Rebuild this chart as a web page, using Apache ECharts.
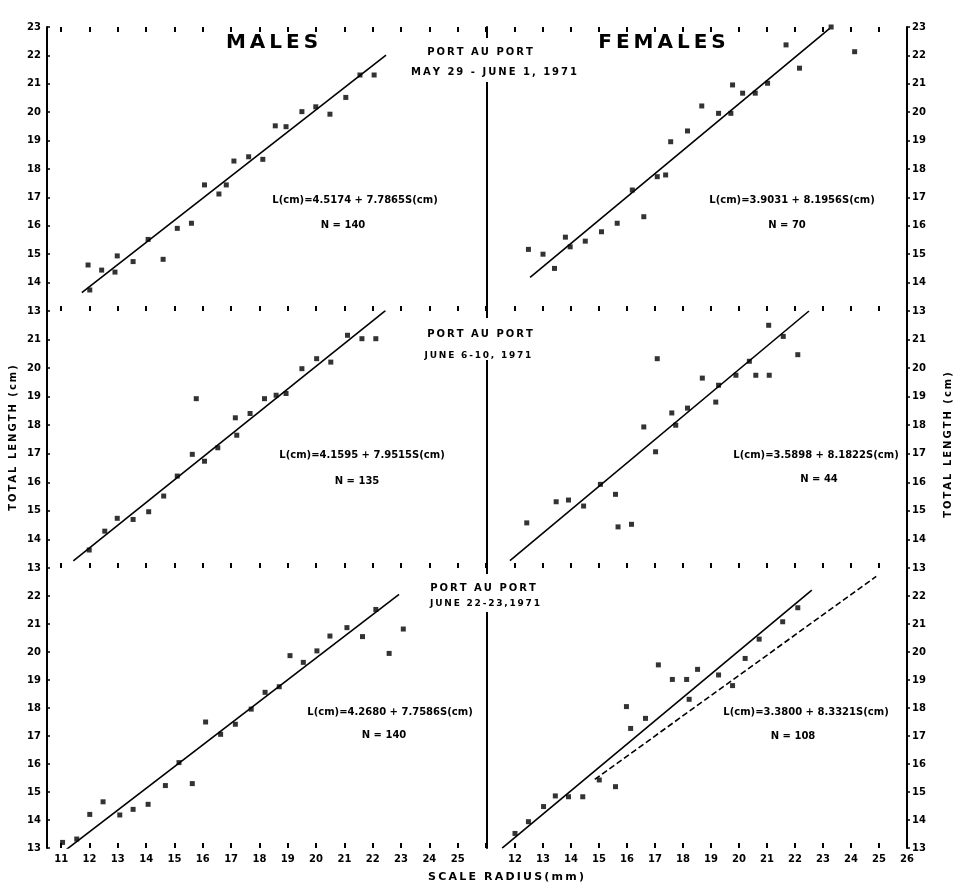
<!DOCTYPE html>
<html>
<head>
<meta charset="utf-8">
<script src="https://cdn.jsdelivr.net/npm/echarts@6/dist/echarts.min.js"></script>
<style>
  html, body { margin: 0; padding: 0; background: #fff; }
  #chart { width: 955px; height: 885px; }
</style>
</head>
<body>
<div id="chart"></div>
<script>
// Total length (cm) against scale radius (mm), Port au Port samples, 1971.

// Tick values and labels
const xTicksLeft = [11, 12, 13, 14, 15, 16, 17, 18, 19, 20, 21, 22, 23, 24, 25, 26];
const xLabelsLeft = [11, 12, 13, 14, 15, 16, 17, 18, 19, 20, 21, 22, 23, 24, 25];
const xTicksRight = [12, 13, 14, 15, 16, 17, 18, 19, 20, 21, 22, 23, 24, 25, 26];
const xLabelsRight = [12, 13, 14, 15, 16, 17, 18, 19, 20, 21, 22, 23, 24, 25, 26];
const yTicksTall = [13, 14, 15, 16, 17, 18, 19, 20, 21, 22, 23];
const yTicksShort = [13, 14, 15, 16, 17, 18, 19, 20, 21, 22];
const yLabelsTop = [13, 14, 15, 16, 17, 18, 19, 20, 21, 22, 23];
const yLabelsMid = [13, 14, 15, 16, 17, 18, 19, 20, 21];
const yLabelsBot = [13, 14, 15, 16, 17, 18, 19, 20, 21, 22];

// Sample headings
const sampleSites = ['PORT AU PORT', 'PORT AU PORT', 'PORT AU PORT'];
const sampleDates = ['MAY 29 - JUNE 1, 1971', 'JUNE 6-10, 1971', 'JUNE 22-23,1971'];

// Mean length at scale radius: [scale radius mm, total length cm]
const maleMay = [[11.95,14.62],[12.01,13.74],[12.43,14.44],[12.9,14.37],[12.98,14.94],[13.54,14.74],[14.07,15.52],[14.6,14.82],[15.1,15.91],[15.6,16.09],[16.06,17.44],[16.57,17.12],[16.83,17.44],[17.1,18.28],[17.62,18.43],[18.12,18.34],[18.56,19.52],[18.94,19.49],[19.5,20.02],[19.99,20.19],[20.49,19.93],[21.05,20.52],[21.55,21.31],[22.05,21.31]];
const femaleMay = [[12.48,15.17],[13.0,15.0],[13.41,14.5],[13.8,15.6],[13.97,15.26],[14.51,15.46],[15.09,15.79],[15.65,16.09],[16.6,16.32],[16.19,17.26],[17.08,17.73],[17.38,17.79],[17.56,18.96],[18.16,19.34],[18.67,20.22],[19.27,19.96],[19.71,19.96],[19.77,20.96],[20.13,20.67],[20.58,20.67],[21.02,21.02],[22.16,21.55],[21.68,22.37],[23.29,23.0],[24.13,22.13]];
const maleJune6 = [[11.99,13.63],[12.54,14.29],[12.98,14.74],[13.54,14.7],[14.09,14.97],[14.62,15.52],[15.1,16.22],[15.63,16.98],[16.06,16.74],[16.53,17.21],[17.15,18.26],[17.2,17.65],[17.67,18.41],[18.18,18.93],[18.59,19.05],[18.94,19.11],[19.5,19.98],[20.02,20.33],[20.52,20.21],[21.11,21.15],[21.62,21.03],[22.11,21.03],[15.77,18.93]];
const femaleJune6 = [[12.42,14.58],[13.47,15.32],[13.91,15.38],[14.45,15.17],[15.05,15.93],[15.59,15.58],[15.68,14.44],[16.16,14.53],[16.6,17.94],[17.02,17.07],[17.6,18.43],[17.74,18.0],[18.16,18.6],[19.17,18.81],[18.69,19.65],[19.27,19.4],[19.89,19.75],[20.37,20.24],[20.6,19.75],[21.08,19.75],[21.58,21.11],[21.06,21.5],[17.08,20.33],[22.1,20.47]];
const maleJune22 = [[11.05,13.2],[11.55,13.32],[12.01,14.2],[12.48,14.65],[13.07,14.18],[13.54,14.38],[14.07,14.56],[14.68,15.23],[15.16,16.05],[15.63,15.3],[16.63,17.06],[17.15,17.42],[17.71,17.96],[18.2,18.56],[18.7,18.76],[19.08,19.87],[19.55,19.63],[20.03,20.04],[20.49,20.57],[21.09,20.87],[21.64,20.55],[22.11,21.52],[22.58,19.95],[23.08,20.82],[16.1,17.5]];
const femaleJune22 = [[12.0,13.52],[12.48,13.94],[13.02,14.48],[13.44,14.86],[13.91,14.83],[14.42,14.83],[15.01,15.43],[15.59,15.19],[16.13,17.27],[16.66,17.63],[15.98,18.05],[17.12,19.54],[17.62,19.02],[18.13,19.02],[18.22,18.31],[18.52,19.38],[19.27,19.18],[19.77,18.8],[20.22,19.77],[20.72,20.46],[21.56,21.08],[22.1,21.58]];

// Regressions L(cm) = a + b * S(cm): [a, b, first S(mm), last S(mm)]
const fitMaleMay = [4.5174, 7.7865, 11.73, 22.47];
const fitFemaleMay = [3.9031, 8.1956, 12.54, 23.23];
const fitMaleJune6 = [4.1595, 7.9515, 11.43, 22.45];
const fitFemaleJune6 = [3.5898, 8.1822, 11.82, 22.5];
const fitMaleJune22 = [4.2680, 7.7586, 11.19, 22.93];
const fitFemaleJune22 = [3.3800, 8.3321, 11.54, 22.6];
// Dashed comparison line in the late-June female panel
const compareJune22 = [[14.85, 15.45], [24.9, 22.7]];

// Sample sizes
const nMaleMay = 140, nFemaleMay = 70, nMaleJune6 = 135, nFemaleJune6 = 44, nMaleJune22 = 140, nFemaleJune22 = 108;

const FONT = '"DejaVu Sans", "Liberation Sans", sans-serif';
const INK = '#000';

const grids = [
  { left: 47,  top: 27,  width: 439, height: 284 },
  { left: 487, top: 27,  width: 420, height: 284 },
  { left: 47,  top: 311, width: 439, height: 257 },
  { left: 487, top: 311, width: 420, height: 257 },
  { left: 47,  top: 568, width: 439, height: 280 },
  { left: 487, top: 568, width: 420, height: 280 }
];

const xAxes = [];
const yAxes = [];
const series = [];

function addX(gi, pos, showLabels) {
  const isLeft = gi % 2 === 0;
  xAxes.push({
    type: 'value', gridIndex: gi, position: pos,
    min: isLeft ? 10.5 : 11, max: 26,
    axisLine: { show: false },
    splitLine: { show: false },
    axisTick: { show: true, inside: true, length: 5, lineStyle: { color: INK, width: 2 },
                customValues: isLeft ? xTicksLeft : xTicksRight },
    axisLabel: { show: showLabels, margin: 6, color: INK, fontFamily: FONT, fontWeight: 'bold', fontSize: 10,
                 customValues: isLeft ? xLabelsLeft : xLabelsRight }
  });
  return xAxes.length - 1;
}

function addY(gi, pos, max, labels, showLine, showLabels) {
  const ticks = max === 23 ? yTicksTall : yTicksShort;
  yAxes.push({
    type: 'value', gridIndex: gi, position: pos, min: 13, max: max,
    splitLine: { show: false },
    axisLine: { show: showLine, onZero: false, lineStyle: { color: INK, width: 2 } },
    axisTick: { show: showLabels, inside: pos === 'left', length: 3, lineStyle: { color: INK, width: 1.5 },
                customValues: ticks },
    axisLabel: { show: showLabels, margin: pos === 'left' ? 6 : 5, color: INK, fontFamily: FONT, fontWeight: 'bold',
                 fontSize: 10, customValues: labels }
  });
  return yAxes.length - 1;
}

function fitLine(fit) {
  const [a, b, s0, s1] = fit;
  return [[s0, a + b * s0 / 10], [s1, a + b * s1 / 10]];
}

function addPanel(gi, points, fit, yMax, yLabels) {
  const isLeft = gi % 2 === 0;
  const xi = addX(gi, 'bottom', gi >= 4);
  if (gi < 2) addX(gi, 'top', false);
  let yi;
  if (isLeft) {
    yi = addY(gi, 'left', yMax, yLabels, true, true);
  } else {
    yi = addY(gi, 'right', yMax, yLabels, true, true);
    addY(gi, 'left', yMax, yLabels, true, false);
  }
  series.push({
    type: 'scatter', xAxisIndex: xi, yAxisIndex: yi, data: points,
    symbol: 'rect', symbolSize: [5, 5], itemStyle: { color: INK }, silent: true
  });
  series.push({
    type: 'line', xAxisIndex: xi, yAxisIndex: yi, data: fitLine(fit),
    symbol: 'none', lineStyle: { color: INK, width: 1.6 }, silent: true
  });
  return { xi, yi };
}

addPanel(0, maleMay, fitMaleMay, 23, yLabelsTop);
addPanel(1, femaleMay, fitFemaleMay, 23, yLabelsTop);
addPanel(2, maleJune6, fitMaleJune6, 22, yLabelsMid);
addPanel(3, femaleJune6, fitFemaleJune6, 22, yLabelsMid);
addPanel(4, maleJune22, fitMaleJune22, 23, yLabelsBot);
const br = addPanel(5, femaleJune22, fitFemaleJune22, 23, yLabelsBot);
series.push({
  type: 'line', xAxisIndex: br.xi, yAxisIndex: br.yi, data: compareJune22,
  symbol: 'none', lineStyle: { color: INK, width: 1.6, type: [6, 3] }, silent: true
});

function txt(x, y, s, size, extra) {
  return Object.assign({
    type: 'text', x: x, y: y, z: 60,
    style: { text: s, fill: INK, fontFamily: FONT, fontWeight: 'bold', fontSize: size,
             align: 'center', verticalAlign: 'middle' }
  }, extra || {});
}

function eqText(fit) {
  return 'L(cm)=' + fit[0].toFixed(4) + ' + ' + fit[1].toFixed(4) + 'S(cm)';
}

const sp = '\u2009';
function spaced(s) { return s.split('').join(sp); }

const graphic = [
  // breaks in the centre divider behind the sample headings
  { type: 'rect', z: 50, shape: { x: 420, y: 38, width: 175, height: 44 }, style: { fill: '#fff' } },
  { type: 'rect', z: 50, shape: { x: 420, y: 318, width: 125, height: 42 }, style: { fill: '#fff' } },
  { type: 'rect', z: 50, shape: { x: 425, y: 574, width: 120, height: 38 }, style: { fill: '#fff' } },

  txt(272, 43, spaced('MALES'), 20),
  txt(662, 43, spaced('FEMALES'), 20),

  txt(480, 52, spaced(sampleSites[0]), 10),
  txt(494, 72, spaced(sampleDates[0]), 10),
  txt(480, 334, spaced(sampleSites[1]), 10),
  txt(478, 356, spaced(sampleDates[1]), 9),
  txt(483, 588, spaced(sampleSites[2]), 10),
  txt(485, 604, spaced(sampleDates[2]), 9),

  txt(355, 200, eqText(fitMaleMay), 10),
  txt(343, 225, 'N = ' + nMaleMay, 10),
  txt(792, 200, eqText(fitFemaleMay), 10),
  txt(787, 225, 'N = ' + nFemaleMay, 10),
  txt(362, 455, eqText(fitMaleJune6), 10),
  txt(357, 481, 'N = ' + nMaleJune6, 10),
  txt(816, 455, eqText(fitFemaleJune6), 10),
  txt(819, 479, 'N = ' + nFemaleJune6, 10),
  txt(390, 712, eqText(fitMaleJune22), 10),
  txt(384, 735, 'N = ' + nMaleJune22, 10),
  txt(806, 712, eqText(fitFemaleJune22), 10),
  txt(793, 736, 'N = ' + nFemaleJune22, 10),

  txt(506, 877, spaced('SCALE RADIUS(mm)'), 11),
  txt(13, 438, spaced('TOTAL LENGTH (cm)'), 10, { rotation: Math.PI / 2 }),
  txt(948, 445, spaced('TOTAL LENGTH (cm)'), 10, { rotation: Math.PI / 2 })
];

const chart = echarts.init(document.getElementById('chart'), null, { renderer: 'canvas' });
chart.setOption({
  backgroundColor: '#fff',
  animation: false,
  grid: grids,
  xAxis: xAxes,
  yAxis: yAxes,
  series: series,
  graphic: graphic
});
</script>
</body>
</html>
